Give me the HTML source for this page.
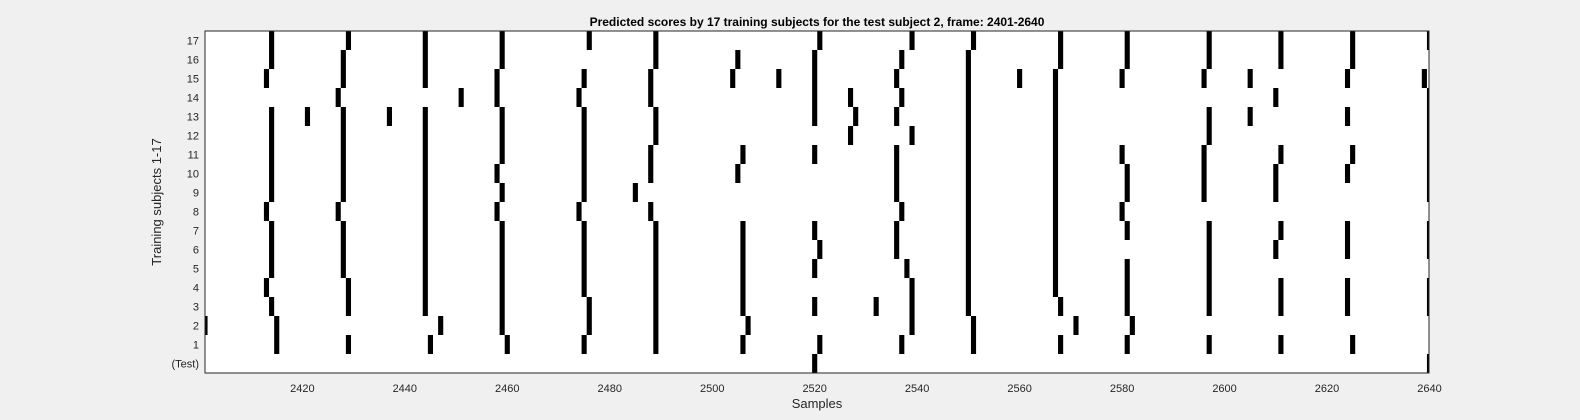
<!DOCTYPE html>
<html><head><meta charset="utf-8"><style>
html,body{margin:0;padding:0;background:#f0f0f0;}
svg{display:block;font-family:"Liberation Sans",sans-serif;}
</style></head><body>
<svg id="chart" width="1580" height="420" xmlns="http://www.w3.org/2000/svg">
<defs><clipPath id="clip"><rect x="205" y="31" width="1224" height="342"/></clipPath></defs>
<rect x="205" y="31" width="1224" height="342" fill="#fff"/>
<g id="marks" clip-path="url(#clip)"></g>
<rect x="205" y="31" width="1224" height="342" fill="none" stroke="#262626" stroke-width="1"/>
<g id="xticks"></g>
<g id="yticks"></g>
<text x="817" y="26" text-anchor="middle" font-size="12" font-weight="bold" fill="#000">Predicted scores by 17 training subjects for the test subject 2, frame: 2401-2640</text>
<text x="817" y="408" text-anchor="middle" font-size="13" fill="#262626">Samples</text>
<text transform="translate(161,202) rotate(-90)" text-anchor="middle" font-size="13" fill="#262626">Training subjects 1-17</text>
</svg>
<script>
const rowLabels = ["(Test)","1","2","3","4","5","6","7","8","9","10","11","12","13","14","15","16","17"];
const xTickValues = [2420,2440,2460,2480,2500,2520,2540,2560,2580,2600,2620,2640];
const subjectMarks = [
 [2520,2640],
 [2415,2429,2445,2460,2475,2489,2506,2521,2537,2551,2568,2581,2597,2611,2625],
 [2401,2415,2447,2459,2476,2489,2507,2539,2551,2571,2582],
 [2414,2429,2444,2459,2476,2489,2506,2520,2532,2539,2550,2568,2581,2597,2611,2624,2640],
 [2413,2429,2444,2459,2475,2489,2506,2539,2550,2567,2581,2597,2611,2624,2640],
 [2414,2428,2444,2459,2475,2489,2506,2520,2538,2550,2567,2581,2597],
 [2414,2428,2444,2459,2475,2489,2506,2521,2536,2550,2567,2597,2610,2624,2640],
 [2414,2428,2444,2459,2475,2489,2506,2520,2536,2550,2567,2581,2597,2611,2624,2640],
 [2413,2427,2444,2458,2474,2488,2537,2550,2567,2580],
 [2414,2428,2444,2459,2475,2485,2536,2550,2567,2581,2596,2610,2640],
 [2414,2428,2444,2458,2475,2488,2505,2536,2550,2567,2581,2596,2610,2624,2640],
 [2414,2428,2444,2459,2475,2488,2506,2520,2536,2550,2567,2580,2596,2611,2625,2640],
 [2414,2428,2444,2459,2475,2489,2527,2539,2550,2567,2597,2640],
 [2414,2421,2428,2437,2444,2459,2475,2489,2520,2528,2536,2550,2567,2597,2605,2624,2640],
 [2427,2451,2458,2474,2488,2520,2527,2537,2550,2567,2610,2640],
 [2413,2428,2444,2458,2475,2488,2504,2513,2520,2536,2550,2560,2567,2580,2596,2605,2624,2639],
 [2414,2428,2444,2459,2489,2505,2520,2537,2550,2568,2581,2597,2611,2625],
 [2414,2429,2444,2459,2476,2489,2521,2539,2551,2568,2581,2597,2611,2625,2640]
];
const X0=205, X1=1429.5, XMIN=2401, XMAX=2640, YTOP=31, YBOT=373;
const xs = v => X0 + (v - XMIN) * (X1 - X0) / (XMAX - XMIN);
const rowH = (YBOT - YTOP) / rowLabels.length;
const yRowTop = i => YBOT - (i + 1) * rowH;
const NS = "http://www.w3.org/2000/svg";
const gm = document.getElementById('marks');
subjectMarks.forEach((row, i) => {
  row.forEach(s => {
    const r = document.createElementNS(NS, 'rect');
    
    
    r.setAttribute('x', xs(s - 0.5));
    r.setAttribute('width', xs(s + 0.5) - xs(s - 0.5));
    r.setAttribute('y', yRowTop(i));
    r.setAttribute('height', rowH);
    r.setAttribute('fill', '#000');
    gm.appendChild(r);
  });
});
const gx = document.getElementById('xticks');
xTickValues.forEach(v => {
  const t = document.createElementNS(NS, 'text');
  
  
  t.setAttribute('x', xs(v));
  t.setAttribute('y', 392);
  t.setAttribute('text-anchor', 'middle');
  t.setAttribute('font-size', '11');
  t.setAttribute('fill', '#262626');
  t.textContent = v;
  gx.appendChild(t);
});
const gy = document.getElementById('yticks');
rowLabels.forEach((lab, i) => {
  const t = document.createElementNS(NS, 'text');
  
  
  t.setAttribute('x', 199);
  t.setAttribute('y', yRowTop(i) + rowH / 2 + 4);
  t.setAttribute('text-anchor', 'end');
  t.setAttribute('font-size', '11');
  t.setAttribute('fill', '#262626');
  t.textContent = lab;
  gy.appendChild(t);
});
</script>
</body></html>
